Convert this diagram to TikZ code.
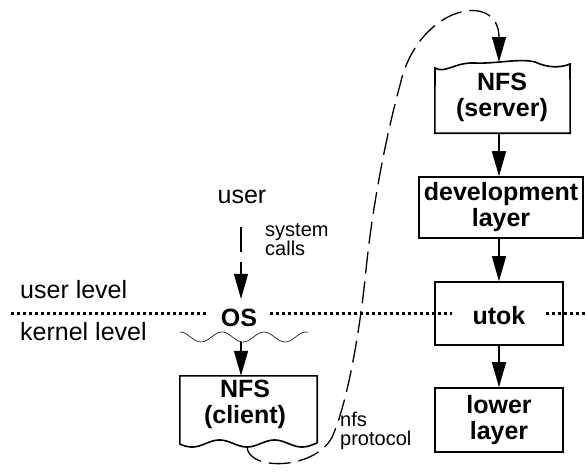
\documentclass[tikz,border=0pt]{standalone}
\usepackage{fontspec}
\setmainfont{Liberation Sans}
\usetikzlibrary{arrows.meta,calc}

\tikzset{
  boxlabel/.style={font=\fontsize{25}{26}\selectfont\bfseries, align=center, inner sep=0pt},
  layerbox/.style={draw, line width=1.6pt, boxlabel},
  wavybox/.style={draw=none, inner sep=0pt},
  plaintext/.style={font=\fontsize{25}{26}\selectfont, inner sep=0pt},
  smalltext/.style={font=\fontsize{20}{19}\selectfont, inner sep=0pt, align=left},
  flow/.style={line width=1.6pt, -{Triangle[length=25pt,width=14pt]}},
  netflow/.style={line width=1.3pt, dash pattern=on 22pt off 8pt, -{Triangle[length=25pt,width=14pt]}},
  levelline/.style={line width=3pt, dash pattern=on 3pt off 3pt},
  boundary/.style={line width=0.6pt},
  outline/.style={line width=1.6pt, line join=miter}
}

\begin{document}
\begin{tikzpicture}[x=1pt,y=-1pt]
\useasboundingbox (0,0) rectangle (586,471);

% --- user/kernel boundary labels
\node[plaintext, anchor=base west] (ulevel) at (20,298) {user level};
\node[plaintext, anchor=base west] (klevel) at (20,340) {kernel level};

% --- client side
\node[plaintext, anchor=base] (user) at (242,203) {user};
\coordinate (callstart) at (241,227);
\node[boxlabel, inner xsep=13pt, inner ysep=10pt] (os) at (239,318) {OS};
\node[smalltext, anchor=base west] (syscalls) at (265,255) {system\\calls};

% wavy line between OS and kernel
\draw[boundary] plot[domain=180:308, samples=80, smooth] (\x, {337-5*cos((\x-180)*8.5714)});
\coordinate (waveout) at (241,342);

% NFS client box with ragged bottom
\node[wavybox, minimum width=137pt, minimum height=67pt] (client) at (248.5,409.5) {};
\node[boxlabel] (clienttxt) at (245,404) {NFS\\(client)};
\draw[outline] (client.south east) -- (client.north east) -- (client.north west) -- (client.south west)
  -- plot[domain=180:317, samples=80, smooth] (\x, {443.5+3.5*cos((\x-247)*6.545)});
\coordinate (nfsout) at (247,446);

% --- server side
\node[wavybox, minimum width=135pt, minimum height=67pt] (server) at (502.5,99.5) {};
\node[boxlabel] (servertxt) at (502,97) {NFS\\(server)};
\draw[outline] (435,68) .. controls (445,74) and (455,62) .. (475,63)
  .. controls (495,64) and (520,58) .. (535,62)
  .. controls (548,68) and (560,68) .. (570,64)
  -- (server.south east) -- (server.south west) -- cycle;

\node[layerbox, minimum width=164pt, minimum height=61pt] (dev) at (501,207.5) {development\\layer};
\node[draw, line width=1.6pt, minimum width=128pt, minimum height=63pt] (utok) at (499,313.5) {};
\node[boxlabel, fill=white, inner xsep=20pt, inner ysep=4pt] (utoktxt) at (499,316) {utok};
\node[layerbox, minimum width=128pt, minimum height=64pt] (lower) at (499,420) {lower\\layer};

% user/kernel boundary (dotted), interrupted by the OS and utok labels
\coordinate (lvlL) at (11,313);
\coordinate (lvlR) at (586,313);
\draw[levelline] (lvlL) -- (lvlL -| os.west);
\draw[levelline] (os.east |- lvlL) -- (utoktxt.west |- lvlL);
\draw[levelline] (utoktxt.east |- lvlL) -- (lvlR);

% --- connectors
\draw[line width=1.3pt, dash pattern=on 25pt off 10pt, -{Triangle[length=25pt,width=14pt]}] (callstart) -- (os.north -| callstart);
\draw[flow] (waveout) -- (waveout |- client.north);
\draw[flow] (server.south -| 499,0) -- (dev.north -| 499,0);
\draw[flow] (dev.south -| 499,0) -- (utok.north);
\draw[flow] (utok.south) -- (lower.north);

% nfs protocol path from client to server
\coordinate (srvin) at (499,62);
\draw[netflow] (nfsout) .. controls (247,472) and (318,470) .. (333,435)
  .. controls (348,400) and (360,330) .. (366,270)
  .. controls (372,210) and (385,140) .. (400,85)
  .. controls (418,5) and (499,-10) .. (srvin);
\node[smalltext, anchor=base west] (proto) at (340,445) {nfs\\protocol};

\end{tikzpicture}
\end{document}
